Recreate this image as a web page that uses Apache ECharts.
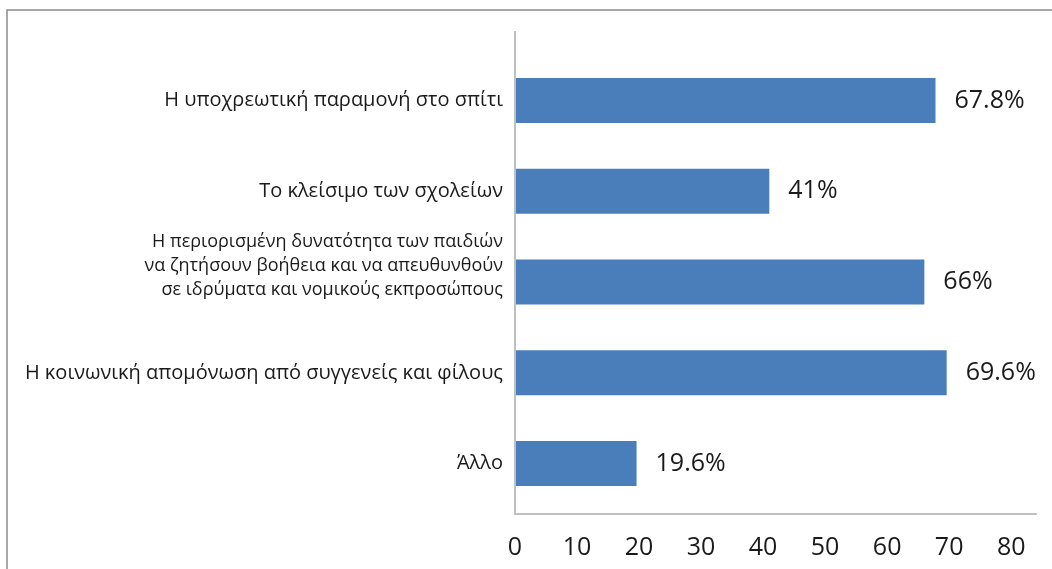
<!DOCTYPE html>
<html>
<head>
<meta charset="utf-8">
<script src="https://cdn.jsdelivr.net/npm/echarts@6/dist/echarts.min.js"></script>
<style>
html,body{margin:0;padding:0;background:#fff;}
#c{width:1052px;height:569px;}
</style>
</head>
<body>
<div id="c"></div>
<script>
const categories = [
  "Η υποχρεωτική παραμονή στο σπίτι",
  "Το κλείσιμο των σχολείων",
  "Η περιορισμένη δυνατότητα των παιδιών\nνα ζητήσουν βοήθεια και να απευθυνθούν\nσε ιδρύματα και νομικούς εκπροσώπους",
  "Η κοινωνική απομόνωση από συγγενείς και φίλους",
  "Άλλο"
];
const values = [67.8, 41, 66, 69.6, 19.6];
const tickLabels = ["0", "10", "20", "30", "40", "50", "60", "70", "80"];

const FONT = "Open Sans";
const chart = echarts.init(document.getElementById('c'), null, {renderer: 'canvas'});
chart.setOption({
  animation: false,
  backgroundColor: '#ffffff',
  grid: {left: 515, right: 16, top: 55, bottom: 60, containLabel: false},
  xAxis: {
    type: 'value', min: 0, max: 84, interval: 10,
    offset: 5,
    axisLine: {show: true, lineStyle: {color: '#bfbfbf', width: 2}},
    axisTick: {show: false},
    splitLine: {show: false},
    axisLabel: {
      showMaxLabel: false,
      margin: 21,
      fontFamily: FONT, fontSize: 25, color: '#1a1a1a',
      formatter: v => tickLabels[Math.round(v / 10)] ?? ''
    }
  },
  yAxis: {
    type: 'category', data: categories, inverse: true,
    axisLine: {show: false},
    axisTick: {show: false},
    axisLabel: {
      margin: 12, fontFamily: FONT, color: '#1a1a1a', align: 'right',
      formatter: v => v.indexOf('\n') >= 0
        ? '{m|' + v.split('\n').join('}\n{m|') + '}\n{e| }'
        : '{s|' + v + '}',
      rich: {
        s: {fontFamily: FONT, fontSize: 20, color: '#1a1a1a', lineHeight: 24},
        m: {fontFamily: FONT, fontSize: 18, color: '#1a1a1a', lineHeight: 24},
        e: {fontFamily: FONT, fontSize: 1, lineHeight: 32}
      }
    }
  },
  series: [{
    type: 'bar', data: values, barWidth: 45,
    itemStyle: {color: '#4a7ebb'},
    label: {
      show: true, position: 'right', distance: 19,
      fontFamily: FONT, fontSize: 25, color: '#1a1a1a',
      formatter: p => p.value + '%'
    }
  }],
  graphic: [
    {type: 'line', shape: {x1: 515, y1: 31, x2: 515, y2: 515}, style: {stroke: '#bfbfbf', lineWidth: 2}, z: 10},
    {type: 'rect', shape: {x: 7, y: 10, width: 1100, height: 700}, style: {fill: 'none', stroke: '#8a8a8a', lineWidth: 1.5}, z: 10}
  ]
});
</script>
</body>
</html>
